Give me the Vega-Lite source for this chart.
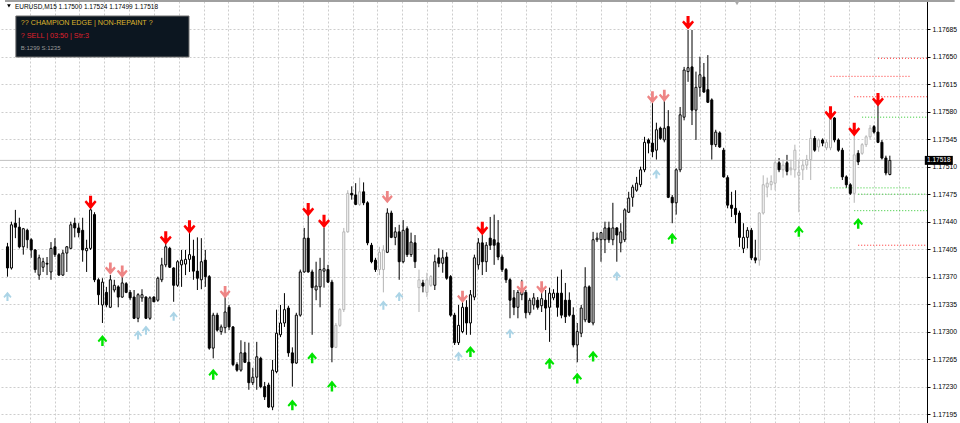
{
  "$schema": "https://vega.github.io/schema/vega-lite/v6.json",
  "width": 927,
  "height": 422,
  "autosize": {"type": "none"},
  "padding": {"left": 0, "top": 1, "right": 33, "bottom": 0},
  "background": "#ffffff",
  "config": {
    "view": {"stroke": null},
    "text": {"font": "Liberation Sans"},
    "axis": {"labelFont": "Liberation Sans"}
  },
  "resolve": {"axis": {"x": "independent", "y": "independent"}},
  "datasets": {
    "candles": [
      {"i":0,"open":1.17408,"high":1.17413,"low":1.17370,"close":1.17381,"tone":"bear"},
      {"i":1,"open":1.17381,"high":1.17440,"low":1.17379,"close":1.17436,"tone":"bull"},
      {"i":2,"open":1.17438,"high":1.17455,"low":1.17419,"close":1.17433,"tone":"bear"},
      {"i":3,"open":1.17433,"high":1.17445,"low":1.17406,"close":1.17408,"tone":"bear"},
      {"i":4,"open":1.17408,"high":1.17432,"low":1.17398,"close":1.17431,"tone":"bull"},
      {"i":5,"open":1.17429,"high":1.17431,"low":1.17406,"close":1.17417,"tone":"bear"},
      {"i":6,"open":1.17417,"high":1.17419,"low":1.17394,"close":1.17404,"tone":"bear"},
      {"i":7,"open":1.17404,"high":1.17405,"low":1.17375,"close":1.17379,"tone":"bear"},
      {"i":8,"open":1.17372,"high":1.17398,"low":1.17366,"close":1.17394,"tone":"bull"},
      {"i":9,"open":1.17382,"high":1.17394,"low":1.17376,"close":1.17389,"tone":"bull"},
      {"i":10,"open":1.17387,"high":1.17395,"low":1.17372,"close":1.17386,"tone":"bear"},
      {"i":11,"open":1.17376,"high":1.17414,"low":1.17366,"close":1.17406,"tone":"bull"},
      {"i":12,"open":1.17408,"high":1.17419,"low":1.17395,"close":1.17398,"tone":"bear"},
      {"i":13,"open":1.17398,"high":1.17400,"low":1.17371,"close":1.17372,"tone":"bear"},
      {"i":14,"open":1.17372,"high":1.17404,"low":1.17371,"close":1.17400,"tone":"bull"},
      {"i":15,"open":1.17400,"high":1.17409,"low":1.17376,"close":1.17408,"tone":"bull"},
      {"i":16,"open":1.17406,"high":1.17440,"low":1.17405,"close":1.17436,"tone":"bull"},
      {"i":17,"open":1.17438,"high":1.17445,"low":1.17420,"close":1.17432,"tone":"bear"},
      {"i":18,"open":1.17432,"high":1.17438,"low":1.17420,"close":1.17426,"tone":"bear"},
      {"i":19,"open":1.17429,"high":1.17445,"low":1.17389,"close":1.17404,"tone":"bear"},
      {"i":20,"open":1.17403,"high":1.17417,"low":1.17376,"close":1.17406,"tone":"bull"},
      {"i":21,"open":1.17406,"high":1.17459,"low":1.17404,"close":1.17455,"tone":"bull"},
      {"i":22,"open":1.17449,"high":1.17452,"low":1.17363,"close":1.17366,"tone":"bear"},
      {"i":23,"open":1.17366,"high":1.17368,"low":1.17334,"close":1.17347,"tone":"bear"},
      {"i":24,"open":1.17334,"high":1.17368,"low":1.17311,"close":1.17363,"tone":"bull"},
      {"i":25,"open":1.17350,"high":1.17357,"low":1.17331,"close":1.17334,"tone":"bear"},
      {"i":26,"open":1.17331,"high":1.17372,"low":1.17330,"close":1.17366,"tone":"bull"},
      {"i":27,"open":1.17353,"high":1.17366,"low":1.17350,"close":1.17359,"tone":"bull"},
      {"i":28,"open":1.17357,"high":1.17359,"low":1.17331,"close":1.17344,"tone":"bear"},
      {"i":29,"open":1.17344,"high":1.17370,"low":1.17343,"close":1.17362,"tone":"bull"},
      {"i":30,"open":1.17361,"high":1.17363,"low":1.17349,"close":1.17350,"tone":"bear"},
      {"i":31,"open":1.17350,"high":1.17353,"low":1.17340,"close":1.17343,"tone":"bear"},
      {"i":32,"open":1.17344,"high":1.17353,"low":1.17316,"close":1.17317,"tone":"bear"},
      {"i":33,"open":1.17317,"high":1.17349,"low":1.17312,"close":1.17347,"tone":"bull"},
      {"i":34,"open":1.17343,"high":1.17354,"low":1.17338,"close":1.17347,"tone":"bull"},
      {"i":35,"open":1.17344,"high":1.17345,"low":1.17316,"close":1.17317,"tone":"bear"},
      {"i":36,"open":1.17317,"high":1.17345,"low":1.17315,"close":1.17343,"tone":"bull"},
      {"i":37,"open":1.17344,"high":1.17345,"low":1.17338,"close":1.17338,"tone":"bear"},
      {"i":38,"open":1.17340,"high":1.17370,"low":1.17338,"close":1.17368,"tone":"bull"},
      {"i":39,"open":1.17366,"high":1.17394,"low":1.17363,"close":1.17385,"tone":"bull"},
      {"i":40,"open":1.17385,"high":1.17413,"low":1.17382,"close":1.17408,"tone":"bull"},
      {"i":41,"open":1.17406,"high":1.17408,"low":1.17381,"close":1.17382,"tone":"bear"},
      {"i":42,"open":1.17381,"high":1.17382,"low":1.17338,"close":1.17359,"tone":"bear"},
      {"i":43,"open":1.17359,"high":1.17391,"low":1.17357,"close":1.17389,"tone":"bull"},
      {"i":44,"open":1.17385,"high":1.17404,"low":1.17357,"close":1.17391,"tone":"bull"},
      {"i":45,"open":1.17386,"high":1.17404,"low":1.17372,"close":1.17392,"tone":"bull"},
      {"i":46,"open":1.17392,"high":1.17426,"low":1.17376,"close":1.17398,"tone":"bull"},
      {"i":47,"open":1.17396,"high":1.17417,"low":1.17366,"close":1.17377,"tone":"bear"},
      {"i":48,"open":1.17377,"high":1.17420,"low":1.17353,"close":1.17368,"tone":"bear"},
      {"i":49,"open":1.17366,"high":1.17419,"low":1.17354,"close":1.17389,"tone":"bull"},
      {"i":50,"open":1.17391,"high":1.17404,"low":1.17357,"close":1.17370,"tone":"bear"},
      {"i":51,"open":1.17370,"high":1.17372,"low":1.17277,"close":1.17279,"tone":"bear"},
      {"i":52,"open":1.17279,"high":1.17324,"low":1.17266,"close":1.17321,"tone":"bull"},
      {"i":53,"open":1.17321,"high":1.17324,"low":1.17300,"close":1.17302,"tone":"bear"},
      {"i":54,"open":1.17300,"high":1.17309,"low":1.17296,"close":1.17306,"tone":"bull"},
      {"i":55,"open":1.17305,"high":1.17349,"low":1.17298,"close":1.17325,"tone":"bull"},
      {"i":56,"open":1.17331,"high":1.17334,"low":1.17302,"close":1.17306,"tone":"bear"},
      {"i":57,"open":1.17306,"high":1.17307,"low":1.17256,"close":1.17258,"tone":"bear"},
      {"i":58,"open":1.17258,"high":1.17261,"low":1.17249,"close":1.17251,"tone":"bear"},
      {"i":59,"open":1.17251,"high":1.17289,"low":1.17249,"close":1.17273,"tone":"bull"},
      {"i":60,"open":1.17273,"high":1.17287,"low":1.17260,"close":1.17261,"tone":"bear"},
      {"i":61,"open":1.17261,"high":1.17286,"low":1.17226,"close":1.17235,"tone":"bear"},
      {"i":62,"open":1.17235,"high":1.17254,"low":1.17232,"close":1.17242,"tone":"bull"},
      {"i":63,"open":1.17242,"high":1.17287,"low":1.17226,"close":1.17268,"tone":"bull"},
      {"i":64,"open":1.17266,"high":1.17268,"low":1.17228,"close":1.17230,"tone":"bear"},
      {"i":65,"open":1.17230,"high":1.17236,"low":1.17213,"close":1.17217,"tone":"bear"},
      {"i":66,"open":1.17232,"high":1.17235,"low":1.17203,"close":1.17204,"tone":"bear"},
      {"i":67,"open":1.17204,"high":1.17264,"low":1.17200,"close":1.17251,"tone":"bull"},
      {"i":68,"open":1.17249,"high":1.17328,"low":1.17247,"close":1.17298,"tone":"bull"},
      {"i":69,"open":1.17296,"high":1.17334,"low":1.17293,"close":1.17311,"tone":"bull"},
      {"i":70,"open":1.17311,"high":1.17349,"low":1.17306,"close":1.17328,"tone":"bull"},
      {"i":71,"open":1.17330,"high":1.17333,"low":1.17268,"close":1.17273,"tone":"bear"},
      {"i":72,"open":1.17273,"high":1.17280,"low":1.17230,"close":1.17260,"tone":"bear"},
      {"i":73,"open":1.17260,"high":1.17324,"low":1.17259,"close":1.17321,"tone":"bull"},
      {"i":74,"open":1.17321,"high":1.17379,"low":1.17319,"close":1.17376,"tone":"bull"},
      {"i":75,"open":1.17376,"high":1.17432,"low":1.17375,"close":1.17419,"tone":"bull"},
      {"i":76,"open":1.17419,"high":1.17451,"low":1.17375,"close":1.17376,"tone":"bear"},
      {"i":77,"open":1.17376,"high":1.17379,"low":1.17296,"close":1.17356,"tone":"bear"},
      {"i":78,"open":1.17353,"high":1.17389,"low":1.17340,"close":1.17358,"tone":"bull"},
      {"i":79,"open":1.17357,"high":1.17394,"low":1.17331,"close":1.17379,"tone":"bull"},
      {"i":80,"open":1.17377,"high":1.17432,"low":1.17356,"close":1.17380,"tone":"bull"},
      {"i":81,"open":1.17379,"high":1.17385,"low":1.17362,"close":1.17363,"tone":"bear"},
      {"i":82,"open":1.17363,"high":1.17366,"low":1.17261,"close":1.17280,"tone":"bear"},
      {"i":83,"open":1.17280,"high":1.17311,"low":1.17279,"close":1.17308,"tone":"pale"},
      {"i":84,"open":1.17308,"high":1.17330,"low":1.17306,"close":1.17328,"tone":"pale"},
      {"i":85,"open":1.17328,"high":1.17432,"low":1.17325,"close":1.17427,"tone":"pale"},
      {"i":86,"open":1.17427,"high":1.17480,"low":1.17426,"close":1.17476,"tone":"pale"},
      {"i":87,"open":1.17476,"high":1.17485,"low":1.17468,"close":1.17474,"tone":"bear"},
      {"i":88,"open":1.17474,"high":1.17489,"low":1.17461,"close":1.17462,"tone":"bear"},
      {"i":89,"open":1.17462,"high":1.17496,"low":1.17460,"close":1.17478,"tone":"pale"},
      {"i":90,"open":1.17478,"high":1.17490,"low":1.17461,"close":1.17464,"tone":"bear"},
      {"i":91,"open":1.17464,"high":1.17466,"low":1.17410,"close":1.17413,"tone":"bear"},
      {"i":92,"open":1.17410,"high":1.17413,"low":1.17387,"close":1.17389,"tone":"bear"},
      {"i":93,"open":1.17391,"high":1.17394,"low":1.17376,"close":1.17379,"tone":"bear"},
      {"i":94,"open":1.17379,"high":1.17408,"low":1.17372,"close":1.17401,"tone":"pale"},
      {"i":95,"open":1.17379,"high":1.17410,"low":1.17350,"close":1.17404,"tone":"pale"},
      {"i":96,"open":1.17401,"high":1.17457,"low":1.17400,"close":1.17451,"tone":"bull"},
      {"i":97,"open":1.17451,"high":1.17454,"low":1.17419,"close":1.17420,"tone":"bear"},
      {"i":98,"open":1.17420,"high":1.17433,"low":1.17410,"close":1.17427,"tone":"bull"},
      {"i":99,"open":1.17427,"high":1.17436,"low":1.17366,"close":1.17389,"tone":"bear"},
      {"i":100,"open":1.17389,"high":1.17442,"low":1.17387,"close":1.17429,"tone":"bull"},
      {"i":101,"open":1.17431,"high":1.17434,"low":1.17395,"close":1.17398,"tone":"bear"},
      {"i":102,"open":1.17398,"high":1.17426,"low":1.17395,"close":1.17414,"tone":"bull"},
      {"i":103,"open":1.17413,"high":1.17423,"low":1.17381,"close":1.17389,"tone":"bear"},
      {"i":104,"open":1.17356,"high":1.17379,"low":1.17325,"close":1.17366,"tone":"pale"},
      {"i":105,"open":1.17362,"high":1.17366,"low":1.17350,"close":1.17358,"tone":"bear"},
      {"i":106,"open":1.17350,"high":1.17375,"low":1.17344,"close":1.17366,"tone":"pale"},
      {"i":107,"open":1.17359,"high":1.17372,"low":1.17357,"close":1.17370,"tone":"pale"},
      {"i":108,"open":1.17359,"high":1.17398,"low":1.17353,"close":1.17389,"tone":"bull"},
      {"i":109,"open":1.17394,"high":1.17406,"low":1.17382,"close":1.17387,"tone":"bear"},
      {"i":110,"open":1.17387,"high":1.17404,"low":1.17375,"close":1.17394,"tone":"bull"},
      {"i":111,"open":1.17395,"high":1.17401,"low":1.17366,"close":1.17368,"tone":"bear"},
      {"i":112,"open":1.17370,"high":1.17372,"low":1.17319,"close":1.17321,"tone":"bear"},
      {"i":113,"open":1.17321,"high":1.17324,"low":1.17283,"close":1.17286,"tone":"bear"},
      {"i":114,"open":1.17286,"high":1.17334,"low":1.17283,"close":1.17308,"tone":"bull"},
      {"i":115,"open":1.17300,"high":1.17343,"low":1.17298,"close":1.17331,"tone":"bull"},
      {"i":116,"open":1.17331,"high":1.17340,"low":1.17296,"close":1.17311,"tone":"bear"},
      {"i":117,"open":1.17311,"high":1.17353,"low":1.17296,"close":1.17347,"tone":"bull"},
      {"i":118,"open":1.17344,"high":1.17398,"low":1.17340,"close":1.17394,"tone":"bull"},
      {"i":119,"open":1.17385,"high":1.17419,"low":1.17379,"close":1.17413,"tone":"bull"},
      {"i":120,"open":1.17413,"high":1.17423,"low":1.17372,"close":1.17389,"tone":"bear"},
      {"i":121,"open":1.17389,"high":1.17414,"low":1.17376,"close":1.17410,"tone":"bull"},
      {"i":122,"open":1.17419,"high":1.17446,"low":1.17404,"close":1.17410,"tone":"bear"},
      {"i":123,"open":1.17417,"high":1.17449,"low":1.17385,"close":1.17410,"tone":"bear"},
      {"i":124,"open":1.17413,"high":1.17442,"low":1.17391,"close":1.17395,"tone":"bear"},
      {"i":125,"open":1.17395,"high":1.17398,"low":1.17376,"close":1.17379,"tone":"bear"},
      {"i":126,"open":1.17379,"high":1.17381,"low":1.17362,"close":1.17366,"tone":"bear"},
      {"i":127,"open":1.17366,"high":1.17368,"low":1.17317,"close":1.17340,"tone":"bear"},
      {"i":128,"open":1.17343,"high":1.17353,"low":1.17321,"close":1.17331,"tone":"bear"},
      {"i":129,"open":1.17331,"high":1.17353,"low":1.17317,"close":1.17350,"tone":"bull"},
      {"i":130,"open":1.17347,"high":1.17366,"low":1.17340,"close":1.17353,"tone":"bull"},
      {"i":131,"open":1.17350,"high":1.17353,"low":1.17317,"close":1.17324,"tone":"bear"},
      {"i":132,"open":1.17324,"high":1.17343,"low":1.17321,"close":1.17340,"tone":"bull"},
      {"i":133,"open":1.17334,"high":1.17349,"low":1.17328,"close":1.17343,"tone":"bull"},
      {"i":134,"open":1.17340,"high":1.17344,"low":1.17328,"close":1.17331,"tone":"bear"},
      {"i":135,"open":1.17333,"high":1.17353,"low":1.17325,"close":1.17342,"tone":"bull"},
      {"i":136,"open":1.17340,"high":1.17353,"low":1.17302,"close":1.17330,"tone":"bear"},
      {"i":137,"open":1.17331,"high":1.17356,"low":1.17287,"close":1.17349,"tone":"bull"},
      {"i":138,"open":1.17343,"high":1.17354,"low":1.17340,"close":1.17349,"tone":"bull"},
      {"i":139,"open":1.17349,"high":1.17370,"low":1.17319,"close":1.17331,"tone":"bear"},
      {"i":140,"open":1.17349,"high":1.17379,"low":1.17317,"close":1.17321,"tone":"bear"},
      {"i":141,"open":1.17340,"high":1.17362,"low":1.17311,"close":1.17319,"tone":"bear"},
      {"i":142,"open":1.17340,"high":1.17350,"low":1.17319,"close":1.17321,"tone":"bear"},
      {"i":143,"open":1.17321,"high":1.17331,"low":1.17280,"close":1.17283,"tone":"bear"},
      {"i":144,"open":1.17283,"high":1.17311,"low":1.17261,"close":1.17300,"tone":"bull"},
      {"i":145,"open":1.17298,"high":1.17334,"low":1.17293,"close":1.17330,"tone":"bull"},
      {"i":146,"open":1.17315,"high":1.17382,"low":1.17312,"close":1.17357,"tone":"bull"},
      {"i":147,"open":1.17357,"high":1.17359,"low":1.17311,"close":1.17312,"tone":"bear"},
      {"i":148,"open":1.17311,"high":1.17427,"low":1.17308,"close":1.17417,"tone":"bull"},
      {"i":149,"open":1.17417,"high":1.17426,"low":1.17414,"close":1.17419,"tone":"bull"},
      {"i":150,"open":1.17417,"high":1.17427,"low":1.17389,"close":1.17426,"tone":"bull"},
      {"i":151,"open":1.17417,"high":1.17440,"low":1.17400,"close":1.17432,"tone":"bull"},
      {"i":152,"open":1.17432,"high":1.17440,"low":1.17413,"close":1.17417,"tone":"bear"},
      {"i":153,"open":1.17417,"high":1.17464,"low":1.17410,"close":1.17432,"tone":"bull"},
      {"i":154,"open":1.17432,"high":1.17433,"low":1.17389,"close":1.17423,"tone":"bear"},
      {"i":155,"open":1.17413,"high":1.17438,"low":1.17401,"close":1.17427,"tone":"bull"},
      {"i":156,"open":1.17417,"high":1.17457,"low":1.17414,"close":1.17455,"tone":"bull"},
      {"i":157,"open":1.17452,"high":1.17478,"low":1.17451,"close":1.17470,"tone":"bull"},
      {"i":158,"open":1.17471,"high":1.17487,"low":1.17459,"close":1.17484,"tone":"bull"},
      {"i":159,"open":1.17480,"high":1.17497,"low":1.17478,"close":1.17489,"tone":"bull"},
      {"i":160,"open":1.17487,"high":1.17510,"low":1.17484,"close":1.17506,"tone":"bull"},
      {"i":161,"open":1.17506,"high":1.17548,"low":1.17503,"close":1.17541,"tone":"bull"},
      {"i":162,"open":1.17544,"high":1.17546,"low":1.17527,"close":1.17540,"tone":"bear"},
      {"i":163,"open":1.17540,"high":1.17591,"low":1.17522,"close":1.17529,"tone":"bear"},
      {"i":164,"open":1.17531,"high":1.17566,"low":1.17519,"close":1.17557,"tone":"bull"},
      {"i":165,"open":1.17559,"high":1.17561,"low":1.17544,"close":1.17546,"tone":"bear"},
      {"i":166,"open":1.17544,"high":1.17599,"low":1.17541,"close":1.17559,"tone":"bull"},
      {"i":167,"open":1.17561,"high":1.17582,"low":1.17470,"close":1.17471,"tone":"bear"},
      {"i":168,"open":1.17471,"high":1.17474,"low":1.17438,"close":1.17464,"tone":"bear"},
      {"i":169,"open":1.17464,"high":1.17508,"low":1.17449,"close":1.17506,"tone":"bull"},
      {"i":170,"open":1.17506,"high":1.17586,"low":1.17503,"close":1.17576,"tone":"bull"},
      {"i":171,"open":1.17573,"high":1.17637,"low":1.17569,"close":1.17633,"tone":"bull"},
      {"i":172,"open":1.17631,"high":1.17684,"low":1.17618,"close":1.17636,"tone":"bull"},
      {"i":173,"open":1.17637,"high":1.17684,"low":1.17563,"close":1.17582,"tone":"bear"},
      {"i":174,"open":1.17582,"high":1.17631,"low":1.17544,"close":1.17611,"tone":"bull"},
      {"i":175,"open":1.17611,"high":1.17650,"low":1.17599,"close":1.17627,"tone":"bull"},
      {"i":176,"open":1.17624,"high":1.17642,"low":1.17604,"close":1.17605,"tone":"bear"},
      {"i":177,"open":1.17608,"high":1.17652,"low":1.17591,"close":1.17592,"tone":"bear"},
      {"i":178,"open":1.17595,"high":1.17597,"low":1.17519,"close":1.17538,"tone":"bear"},
      {"i":179,"open":1.17538,"high":1.17557,"low":1.17535,"close":1.17554,"tone":"bull"},
      {"i":180,"open":1.17553,"high":1.17555,"low":1.17534,"close":1.17535,"tone":"bear"},
      {"i":181,"open":1.17531,"high":1.17534,"low":1.17496,"close":1.17497,"tone":"bear"},
      {"i":182,"open":1.17496,"high":1.17499,"low":1.17457,"close":1.17461,"tone":"bear"},
      {"i":183,"open":1.17461,"high":1.17478,"low":1.17446,"close":1.17457,"tone":"bear"},
      {"i":184,"open":1.17457,"high":1.17480,"low":1.17438,"close":1.17449,"tone":"bear"},
      {"i":185,"open":1.17451,"high":1.17454,"low":1.17408,"close":1.17420,"tone":"bear"},
      {"i":186,"open":1.17406,"high":1.17438,"low":1.17400,"close":1.17420,"tone":"bull"},
      {"i":187,"open":1.17420,"high":1.17433,"low":1.17406,"close":1.17429,"tone":"bull"},
      {"i":188,"open":1.17429,"high":1.17432,"low":1.17391,"close":1.17394,"tone":"bear"},
      {"i":189,"open":1.17394,"high":1.17417,"low":1.17387,"close":1.17391,"tone":"bear"},
      {"i":190,"open":1.17391,"high":1.17452,"low":1.17384,"close":1.17451,"tone":"pale"},
      {"i":191,"open":1.17451,"high":1.17499,"low":1.17449,"close":1.17487,"tone":"pale"},
      {"i":192,"open":1.17484,"high":1.17496,"low":1.17471,"close":1.17489,"tone":"pale"},
      {"i":193,"open":1.17487,"high":1.17499,"low":1.17480,"close":1.17491,"tone":"pale"},
      {"i":194,"open":1.17489,"high":1.17519,"low":1.17480,"close":1.17515,"tone":"pale"},
      {"i":195,"open":1.17515,"high":1.17521,"low":1.17503,"close":1.17506,"tone":"bear"},
      {"i":196,"open":1.17506,"high":1.17519,"low":1.17496,"close":1.17512,"tone":"pale"},
      {"i":197,"open":1.17515,"high":1.17525,"low":1.17499,"close":1.17504,"tone":"bear"},
      {"i":198,"open":1.17506,"high":1.17519,"low":1.17499,"close":1.17508,"tone":"pale"},
      {"i":199,"open":1.17506,"high":1.17538,"low":1.17496,"close":1.17531,"tone":"pale"},
      {"i":200,"open":1.17499,"high":1.17519,"low":1.17452,"close":1.17503,"tone":"pale"},
      {"i":201,"open":1.17506,"high":1.17519,"low":1.17493,"close":1.17512,"tone":"pale"},
      {"i":202,"open":1.17512,"high":1.17525,"low":1.17506,"close":1.17519,"tone":"pale"},
      {"i":203,"open":1.17519,"high":1.17557,"low":1.17493,"close":1.17546,"tone":"pale"},
      {"i":204,"open":1.17546,"high":1.17549,"low":1.17529,"close":1.17531,"tone":"bear"},
      {"i":205,"open":1.17535,"high":1.17546,"low":1.17529,"close":1.17544,"tone":"pale"},
      {"i":206,"open":1.17544,"high":1.17546,"low":1.17536,"close":1.17540,"tone":"bear"},
      {"i":207,"open":1.17534,"high":1.17544,"low":1.17531,"close":1.17541,"tone":"pale"},
      {"i":208,"open":1.17534,"high":1.17575,"low":1.17531,"close":1.17572,"tone":"pale"},
      {"i":209,"open":1.17572,"high":1.17573,"low":1.17541,"close":1.17544,"tone":"bear"},
      {"i":210,"open":1.17544,"high":1.17546,"low":1.17529,"close":1.17531,"tone":"bear"},
      {"i":211,"open":1.17531,"high":1.17534,"low":1.17493,"close":1.17497,"tone":"bear"},
      {"i":212,"open":1.17497,"high":1.17499,"low":1.17483,"close":1.17487,"tone":"bear"},
      {"i":213,"open":1.17487,"high":1.17489,"low":1.17474,"close":1.17476,"tone":"bear"},
      {"i":214,"open":1.17476,"high":1.17553,"low":1.17464,"close":1.17525,"tone":"pale"},
      {"i":215,"open":1.17527,"high":1.17531,"low":1.17512,"close":1.17516,"tone":"bear"},
      {"i":216,"open":1.17527,"high":1.17540,"low":1.17525,"close":1.17538,"tone":"pale"},
      {"i":217,"open":1.17538,"high":1.17550,"low":1.17535,"close":1.17548,"tone":"pale"},
      {"i":218,"open":1.17548,"high":1.17563,"low":1.17545,"close":1.17559,"tone":"pale"},
      {"i":219,"open":1.17561,"high":1.17563,"low":1.17552,"close":1.17554,"tone":"bear"},
      {"i":220,"open":1.17554,"high":1.17589,"low":1.17540,"close":1.17541,"tone":"bear"},
      {"i":221,"open":1.17541,"high":1.17544,"low":1.17519,"close":1.17521,"tone":"bear"},
      {"i":222,"open":1.17521,"high":1.17524,"low":1.17499,"close":1.17502,"tone":"bear"},
      {"i":223,"open":1.17500,"high":1.17524,"low":1.17499,"close":1.17518,"tone":"bull"}
    ],
    "signals": [
      {"i":21,"price":1.17464,"kind":"sell"},
      {"i":40,"price":1.17419,"kind":"sell"},
      {"i":46,"price":1.17433,"kind":"sell"},
      {"i":76,"price":1.17455,"kind":"sell"},
      {"i":80,"price":1.17440,"kind":"sell"},
      {"i":120,"price":1.17431,"kind":"sell"},
      {"i":172,"price":1.17693,"kind":"sell"},
      {"i":208,"price":1.17578,"kind":"sell"},
      {"i":214,"price":1.17557,"kind":"sell"},
      {"i":220,"price":1.17595,"kind":"sell"},
      {"i":26,"price":1.17380,"kind":"weak_sell"},
      {"i":29,"price":1.17376,"kind":"weak_sell"},
      {"i":55,"price":1.17350,"kind":"weak_sell"},
      {"i":96,"price":1.17471,"kind":"weak_sell"},
      {"i":115,"price":1.17344,"kind":"weak_sell"},
      {"i":130,"price":1.17356,"kind":"weak_sell"},
      {"i":135,"price":1.17356,"kind":"weak_sell"},
      {"i":163,"price":1.17598,"kind":"weak_sell"},
      {"i":166,"price":1.17600,"kind":"weak_sell"},
      {"i":24,"price":1.17289,"kind":"buy"},
      {"i":52,"price":1.17246,"kind":"buy"},
      {"i":72,"price":1.17207,"kind":"buy"},
      {"i":77,"price":1.17267,"kind":"buy"},
      {"i":82,"price":1.17231,"kind":"buy"},
      {"i":117,"price":1.17275,"kind":"buy"},
      {"i":137,"price":1.17260,"kind":"buy"},
      {"i":144,"price":1.17241,"kind":"buy"},
      {"i":148,"price":1.17269,"kind":"buy"},
      {"i":168,"price":1.17419,"kind":"buy"},
      {"i":200,"price":1.17428,"kind":"buy"},
      {"i":215,"price":1.17438,"kind":"buy"},
      {"i":0,"price":1.17345,"kind":"weak_buy"},
      {"i":33,"price":1.17296,"kind":"weak_buy"},
      {"i":35,"price":1.17302,"kind":"weak_buy"},
      {"i":42,"price":1.17320,"kind":"weak_buy"},
      {"i":95,"price":1.17334,"kind":"weak_buy"},
      {"i":99,"price":1.17345,"kind":"weak_buy"},
      {"i":114,"price":1.17269,"kind":"weak_buy"},
      {"i":127,"price":1.17298,"kind":"weak_buy"},
      {"i":154,"price":1.17371,"kind":"weak_buy"},
      {"i":164,"price":1.17501,"kind":"weak_buy"}
    ],
    "levels": [
      {"start":220,"end":240,"price":1.17648,"kind":"stop"},
      {"start":208,"end":228,"price":1.17625,"kind":"stop"},
      {"start":214,"end":234,"price":1.17599,"kind":"stop"},
      {"start":216,"end":236,"price":1.17573,"kind":"target"},
      {"start":208,"end":228,"price":1.17483,"kind":"target"},
      {"start":215,"end":235,"price":1.17475,"kind":"target"},
      {"start":214,"end":234,"price":1.17454,"kind":"target"},
      {"start":215,"end":235,"price":1.17410,"kind":"stop"}
    ]
  },
  "layer": [
    {
      "data": {"name": "candles"},
      "mark": {"type": "rule", "strokeWidth": 1},
      "encoding": {
        "x": {
          "field": "i", "type": "quantitative",
          "scale": {"domain": [-0.625, 231.125], "nice": false, "zero": false},
          "axis": {
            "orient": "bottom", "title": null, "labels": false, "ticks": false, "domain": false,
            "grid": true, "gridColor": "#cdcdcd", "gridDash": [2, 2], "gridWidth": 1,
            "values": [5.625, 11.9, 18.175, 24.45, 30.725, 37.0, 43.275, 49.55, 55.825, 62.1, 68.375, 74.65, 80.925, 87.2, 93.475, 99.75, 106.025, 112.3, 118.575, 124.85, 131.125, 137.4, 143.675, 149.95, 156.225, 162.5, 168.775, 175.05, 181.325, 187.6, 193.875, 200.15, 206.425, 212.7, 218.975, 225.25]
          }
        },
        "y": {
          "field": "low", "type": "quantitative",
          "scale": {"domain": [1.171837, 1.177209], "nice": false, "zero": false},
          "axis": {
            "orient": "right", "title": null, "format": ".5f",
            "values": [1.17195, 1.1723, 1.17265, 1.173, 1.17335, 1.1737, 1.17405, 1.1744, 1.17475, 1.1751, 1.17545, 1.1758, 1.17615, 1.1765, 1.17685],
            "grid": true, "gridColor": "#cdcdcd", "gridDash": [2, 2], "gridWidth": 1,
            "domain": true, "domainColor": "#000000", "domainWidth": 1,
            "ticks": true, "tickColor": "#000000", "tickSize": 3, "tickWidth": 1,
            "labelFontSize": 6.8, "labelColor": "#000000", "labelPadding": 2, "labelBaseline": "middle",
            "labelOverlap": false, "labelBound": false, "labelFlush": false
          }
        },
        "y2": {"field": "high"},
        "stroke": {
          "field": "tone", "type": "nominal", "legend": null,
          "scale": {"domain": ["bear", "bull", "pale"], "range": ["#000000", "#000000", "#b4b4b4"]}
        }
      }
    },
    {
      "data": {"values": [{}]},
      "mark": {"type": "rule", "color": "#c0c0c0", "strokeWidth": 1},
      "encoding": {"y": {"datum": 1.17518, "type": "quantitative", "axis": null}}
    },
    {
      "data": {"name": "levels"},
      "mark": {"type": "rule", "strokeWidth": 1, "strokeDash": [1, 2], "clip": true},
      "encoding": {
        "x": {"field": "start", "type": "quantitative", "axis": null},
        "x2": {"field": "end"},
        "y": {"field": "price", "type": "quantitative", "axis": null},
        "color": {
          "field": "kind", "type": "nominal", "legend": null,
          "scale": {"domain": ["sell", "weak_sell", "buy", "weak_buy", "stop", "target"], "range": ["#ff0000", "#ee8585", "#00e400", "#abd4e6", "#ff2a2a", "#2ac82a"]}
        }
      }
    },
    {
      "data": {"name": "candles"},
      "mark": {"type": "bar", "size": 2, "strokeWidth": 1},
      "encoding": {
        "x": {"field": "i", "type": "quantitative", "axis": null},
        "y": {"field": "open", "type": "quantitative", "axis": null},
        "y2": {"field": "close"},
        "fill": {
          "field": "tone", "type": "nominal", "legend": null,
          "scale": {"domain": ["bear", "bull", "pale"], "range": ["#000000", "#ffffff", "#ffffff"]}
        },
        "stroke": {"field": "tone", "type": "nominal", "legend": null}
      }
    },
    {
      "data": {"name": "signals"},
      "mark": {"type": "point", "filled": true, "opacity": 1, "strokeWidth": 0},
      "encoding": {
        "x": {"field": "i", "type": "quantitative", "axis": null},
        "y": {"field": "price", "type": "quantitative", "axis": null},
        "color": {"field": "kind", "type": "nominal", "legend": null},
        "shape": {
          "field": "kind", "type": "nominal", "legend": null,
          "scale": {
            "domain": ["sell", "weak_sell", "buy", "weak_buy"],
            "range": [
              "M-0.22,-1L0.22,-1L0.22,0.05L0.62,-0.35L0.86,-0.1L0,0.95L-0.86,-0.1L-0.62,-0.35L-0.22,0.05Z",
              "M-0.22,-1L0.22,-1L0.22,0.05L0.62,-0.35L0.86,-0.1L0,0.95L-0.86,-0.1L-0.62,-0.35L-0.22,0.05Z",
              "M-0.22,1L0.22,1L0.22,-0.05L0.62,0.35L0.86,0.1L0,-0.95L-0.86,0.1L-0.62,0.35L-0.22,-0.05Z",
              "M-0.22,1L0.22,1L0.22,-0.05L0.62,0.35L0.86,0.1L0,-0.95L-0.86,0.1L-0.62,0.35L-0.22,-0.05Z"
            ]
          }
        },
        "size": {
          "field": "kind", "type": "nominal", "legend": null,
          "scale": {"domain": ["sell", "weak_sell", "buy", "weak_buy"], "range": [196, 90, 169, 90]}
        }
      }
    },
    {
      "data": {"values": [{}]},
      "mark": {"type": "rule", "color": "#a0a0a0", "strokeWidth": 2},
      "encoding": {
        "x": {"datum": -0.625, "type": "quantitative", "axis": null},
        "x2": {"datum": 239.375},
        "y": {"datum": 1.177209, "type": "quantitative", "axis": null}
      }
    },
    {
      "data": {"values": [{}]},
      "mark": {"type": "point", "shape": "triangle-down", "filled": true, "color": "#a8a8a8", "size": 30, "opacity": 1},
      "encoding": {
        "x": {"datum": 184.375, "type": "quantitative", "axis": null},
        "y": {"datum": 1.177184, "type": "quantitative", "axis": null}
      }
    },
    {
      "data": {"values": [{}]},
      "mark": {"type": "rect", "fill": "#0c1620", "stroke": "#6e6e6e", "strokeWidth": 1},
      "encoding": {
        "x": {"datum": 2.125, "type": "quantitative", "axis": null},
        "x2": {"datum": 45.875},
        "y": {"datum": 1.177018, "type": "quantitative", "axis": null},
        "y2": {"datum": 1.176496}
      }
    },
    {
      "data": {"values": [{}]},
      "mark": {"type": "text", "align": "left", "baseline": "middle", "fontSize": 7.2, "color": "#dcb42c"},
      "encoding": {
        "x": {"datum": 3.375, "type": "quantitative", "axis": null},
        "y": {"datum": 1.176929, "type": "quantitative", "axis": null},
        "text": {"value": "?? CHAMPION EDGE | NON-REPAINT ?"}
      }
    },
    {
      "data": {"values": [{}]},
      "mark": {"type": "text", "align": "left", "baseline": "middle", "fontSize": 7.2, "color": "#e0202c"},
      "encoding": {
        "x": {"datum": 3.375, "type": "quantitative", "axis": null},
        "y": {"datum": 1.176764, "type": "quantitative", "axis": null},
        "text": {"value": "? SELL | 03:50 | Str:3"}
      }
    },
    {
      "data": {"values": [{}]},
      "mark": {"type": "text", "align": "left", "baseline": "middle", "fontSize": 6, "color": "#9a9a9a"},
      "encoding": {
        "x": {"datum": 3.375, "type": "quantitative", "axis": null},
        "y": {"datum": 1.176611, "type": "quantitative", "axis": null},
        "text": {"value": "B:1299 S:1235"}
      }
    },
    {
      "data": {"values": [{}]},
      "mark": {"type": "point", "shape": "triangle-down", "filled": true, "color": "#000000", "size": 14, "opacity": 1},
      "encoding": {
        "x": {"datum": 0.375, "type": "quantitative", "axis": null},
        "y": {"datum": 1.177146, "type": "quantitative", "axis": null}
      }
    },
    {
      "data": {"values": [{}]},
      "mark": {"type": "text", "align": "left", "baseline": "middle", "fontSize": 6.5, "color": "#000000"},
      "encoding": {
        "x": {"datum": 1.875, "type": "quantitative", "axis": null},
        "y": {"datum": 1.177133, "type": "quantitative", "axis": null},
        "text": {"value": "EURUSD,M15  1.17500 1.17524 1.17499 1.17518"}
      }
    },
    {
      "data": {"values": [{}]},
      "mark": {"type": "point", "shape": "M-1,-0.32L1,-0.32L1,0.32L-1,0.32Z", "filled": true, "color": "#000000", "size": 784, "opacity": 1},
      "encoding": {
        "x": {"datum": 235.375, "type": "quantitative", "axis": null},
        "y": {"datum": 1.17518, "type": "quantitative", "axis": null}
      }
    },
    {
      "data": {"values": [{}]},
      "mark": {"type": "text", "align": "center", "baseline": "middle", "fontSize": 6.5, "color": "#ffffff"},
      "encoding": {
        "x": {"datum": 235.375, "type": "quantitative", "axis": null},
        "y": {"datum": 1.17518, "type": "quantitative", "axis": null},
        "text": {"value": "1.17518"}
      }
    }
  ]
}
